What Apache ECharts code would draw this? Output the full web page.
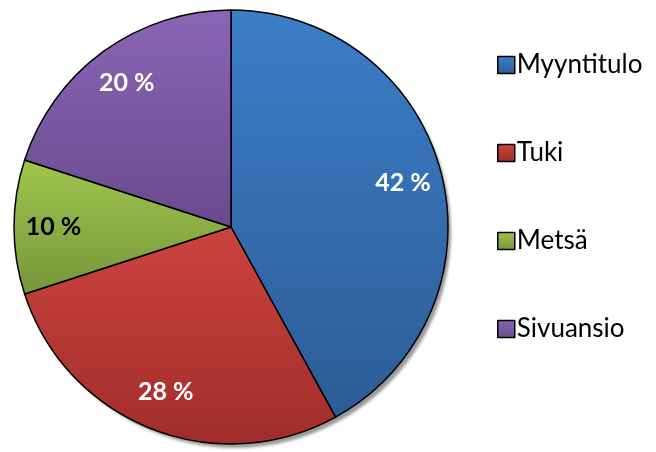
<!DOCTYPE html>
<html lang="fi">
<head>
    <meta charset="UTF-8">
    <title>Tulot</title>
    <script src="https://cdn.jsdelivr.net/npm/echarts@6/dist/echarts.min.js"></script>
    <style>
        html, body {
            margin: 0;
            height: 100%;
            width: 100%;
            overflow: hidden;
            background: #fff;
        }
    </style>
</head>
<body>
<div id="pie" style="width: 656px;height: 452px;"></div>
<script>
    var names = ['Myyntitulo', 'Tuki', 'Metsä', 'Sivuansio'];
    var shares = [42, 28, 10, 20];
    var topColors = ['#3c7ec8', '#cc433f', '#9fc64e', '#8a65b6'];
    var bottomColors = ['#2c5c96', '#a02d2a', '#76963a', '#684b8c'];
    var labelColors = ['#fff', '#fff', '#000', '#fff'];

    var chart = echarts.init(document.getElementById('pie'));

    var data = names.map(function (n, i) {
        return {
            name: n,
            value: shares[i],
            itemStyle: {
                color: new echarts.graphic.LinearGradient(0, 0, 0, 1, [
                    {offset: 0, color: topColors[i]},
                    {offset: 1, color: bottomColors[i]}
                ])
            }
        };
    });

    var labelData = names.map(function (n, i) {
        return {
            name: n,
            value: shares[i],
            label: {color: labelColors[i]}
        };
    });

    chart.setOption({
        animation: false,
        legend: {
            orient: 'vertical',
            left: 492,
            top: 47,
            itemWidth: 17,
            itemHeight: 17,
            itemGap: 62,
            icon: 'rect',
            itemStyle: {borderColor: '#000', borderWidth: 1.5},
            textStyle: {fontFamily: 'Lato', fontSize: 26, color: '#000', lineHeight: 26, padding: [0, 0, 0, -3]},
            data: names
        },
        series: [{
            // shadow disc below the pie
            type: 'pie',
            center: [231, 227],
            radius: [0, 216],
            silent: true,
            label: {show: false},
            labelLine: {show: false},
            itemStyle: {
                color: '#fff',
                shadowColor: 'rgba(0,0,0,0.4)',
                shadowBlur: 3,
                shadowOffsetX: 4,
                shadowOffsetY: 5
            },
            data: [{name: '', value: 1}]
        }, {
            type: 'pie',
            center: [231, 227],
            radius: [0, 217],
            startAngle: 90,
            clockwise: true,
            silent: true,
            label: {show: false},
            labelLine: {show: false},
            itemStyle: {
                borderColor: '#000',
                borderWidth: 1.5
            },
            data: data
        }, {
            // transparent ring only used to place the percentage labels
            type: 'pie',
            center: [231, 227],
            radius: [132, 217],
            startAngle: 90,
            clockwise: true,
            silent: true,
            itemStyle: {color: 'rgba(0,0,0,0)'},
            labelLine: {show: false},
            label: {
                show: true,
                position: 'inside',
                formatter: '{c} %',
                fontFamily: 'Lato',
                fontWeight: 'bold',
                fontSize: 25
            },
            data: labelData
        }]
    });
</script>
</body>
</html>
